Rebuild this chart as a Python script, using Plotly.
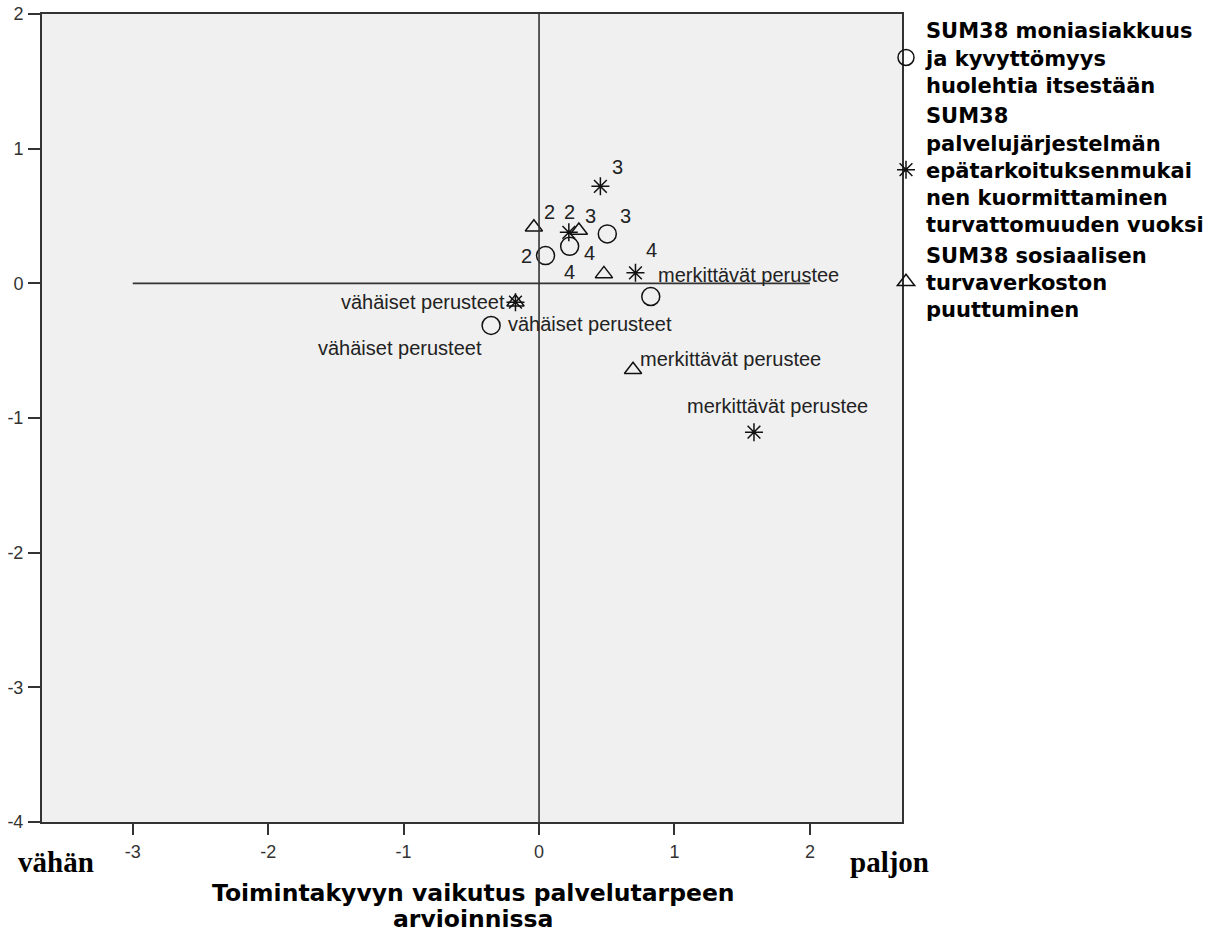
import plotly.graph_objects as go

# ---------------- data ----------------
CATEGORIES = ["2", "3", "4", "vähäiset perusteet", "merkittävät perustee"]

SERIES_NAMES = [
    "SUM38 moniasiakkuus<br>ja kyvyttömyys<br>huolehtia itsestään",
    "SUM38<br>palvelujärjestelmän<br>epätarkoituksenmukai<br>nen kuormittaminen<br>turvattomuuden vuoksi",
    "SUM38 sosiaalisen<br>turvaverkoston<br>puuttuminen",
]

CIRCLE_X = [0.048, 0.504, 0.226, -0.354, 0.825]
CIRCLE_Y = [0.206, 0.367, 0.275, -0.313, -0.098]

STAR_X = [0.220, 0.453, 0.712, -0.174, 1.587]
STAR_Y = [0.379, 0.720, 0.078, -0.140, -1.105]

TRI_X = [-0.038, 0.294, 0.479, -0.174, 0.694]
TRI_Y = [0.416, 0.392, 0.070, -0.140, -0.642]

X_TICKS = [-3, -2, -1, 0, 1, 2]
Y_TICKS = [-4, -3, -2, -1, 0, 1, 2]
X_RANGE = [-3.67, 2.68]
Y_RANGE = [-4, 2]

X_TITLE_LINES = ["Toimintakyvyn vaikutus palvelutarpeen", "arvioinnissa"]
LOW_LABEL = "vähän"
HIGH_LABEL = "paljon"

# ---------------- layout / style ----------------
W, H = 1220, 935
# target plot-area edges in window pixels
PL, PR, PT, PB = 42, 902, 14, 822
ML, MT, MR, MB = PL, PT, W - PR, H - PB
PLOT_W = PR - PL
PLOT_H = PB - PT


def px_x(px):
    return (px - PL) / PLOT_W


def px_y(py):
    return (PB - py) / PLOT_H


# label placement: (xanchor, dx px, dy px (down positive))
CIRCLE_LBL = [("right", -12, 0), ("center", 18, -18), ("center", 20, 7), ("left", 15, -1), ("left", 5, -22)]
STAR_LBL = [("center", 1, -20), ("center", 17, -19), ("center", 16, -23), ("right", -31, 46), ("center", 24, -26)]
TRI_LBL = [("center", 16, -15), ("center", 12, -15), ("center", -34, -2), ("right", -8, 0), ("left", 5, -11)]

LABEL_FONT = dict(family="Liberation Sans, Arial, sans-serif", size=20, color="#222")
TICK_FONT = dict(family="Liberation Sans, Arial, sans-serif", size=18, color="#333")
LEGEND_FONT = dict(family="DejaVu Sans, Verdana, sans-serif", size=21, color="#000", weight="bold")
TITLE_FONT = dict(family="DejaVu Sans, Verdana, sans-serif", size=23.5, color="#000", weight="bold")
SERIF_FONT = dict(family="Liberation Serif, Times New Roman, serif", size=29, color="#000", weight="bold")

fig = go.Figure()

series = [
    (CIRCLE_X, CIRCLE_Y, SERIES_NAMES[0], dict(symbol="circle-open", size=18, line=dict(width=1.5, color="#111")), CIRCLE_LBL),
    (STAR_X, STAR_Y, SERIES_NAMES[1], dict(symbol="asterisk-open", size=15, line=dict(width=1.5, color="#111")), STAR_LBL),
    (TRI_X, TRI_Y, SERIES_NAMES[2], dict(symbol="triangle-up-open", size=15, line=dict(width=1.5, color="#111")), TRI_LBL),
]

annotations = []
for xs, ys, name, marker, lbl in series:
    fig.add_trace(go.Scatter(x=xs, y=ys, mode="markers", name=name, marker=dict(color="#111", **marker),
                             hoverinfo="x+y+name"))
    for xv, yv, cat, (anc, dx, dy) in zip(xs, ys, CATEGORIES, lbl):
        annotations.append(dict(x=xv, y=yv, xref="x", yref="y", text=cat, showarrow=False,
                                xanchor=anc, yanchor="middle", xshift=dx, yshift=-dy, font=LABEL_FONT))

# reference lines through the origin
shapes = [
    dict(type="line", xref="x", yref="y", x0=0, x1=0, y0=Y_RANGE[0], y1=Y_RANGE[1],
         line=dict(color="#333", width=1.6)),
    dict(type="line", xref="x", yref="y", x0=X_TICKS[0], x1=X_TICKS[-1], y0=0, y1=0,
         line=dict(color="#333", width=1.6)),
]

annotations += [
    dict(x=px_x(16), y=px_y(862), xref="paper", yref="paper", text=LOW_LABEL, showarrow=False,
         xanchor="left", yanchor="middle", font=SERIF_FONT),
    dict(x=px_x(848), y=px_y(862), xref="paper", yref="paper", text=HIGH_LABEL, showarrow=False,
         xanchor="left", yanchor="middle", font=SERIF_FONT),
    dict(x=px_x(473), y=px_y(893), xref="paper", yref="paper", text=X_TITLE_LINES[0], showarrow=False,
         xanchor="center", yanchor="middle", font=TITLE_FONT),
    dict(x=px_x(473), y=px_y(919), xref="paper", yref="paper", text=X_TITLE_LINES[1], showarrow=False,
         xanchor="center", yanchor="middle", font=TITLE_FONT),
]

axis_common = dict(showgrid=False, zeroline=False, showline=True, linecolor="#333", linewidth=2,
                   mirror=True, ticks="outside", tickcolor="#333", tickwidth=1.5, tickfont=TICK_FONT)

fig.update_layout(
    width=W, height=H,
    margin=dict(l=ML, r=MR, t=MT, b=MB, autoexpand=False),
    paper_bgcolor="white",
    plot_bgcolor="#f0f0f0",
    xaxis=dict(range=X_RANGE, tickvals=X_TICKS, ticktext=[str(v) for v in X_TICKS],
               ticklen=11, ticklabelstandoff=1, **axis_common),
    yaxis=dict(range=Y_RANGE, tickvals=Y_TICKS, ticktext=[str(v) for v in Y_TICKS],
               ticklen=12, ticklabelstandoff=1, **axis_common),
    shapes=shapes,
    annotations=annotations,
    showlegend=True,
    legend=dict(x=px_x(886), y=px_y(10), xanchor="left", yanchor="top", font=LEGEND_FONT,
                bgcolor="rgba(0,0,0,0)", borderwidth=0, itemsizing="trace", valign="middle",
                tracegroupgap=0),
)

# remove the default 8px page margin so the figure sits at the window's top-left corner
fig.write_html(
    "out.html",
    config={"displayModeBar": False},
    post_script="document.body.style.margin='0';document.body.style.overflow='hidden';",
)
